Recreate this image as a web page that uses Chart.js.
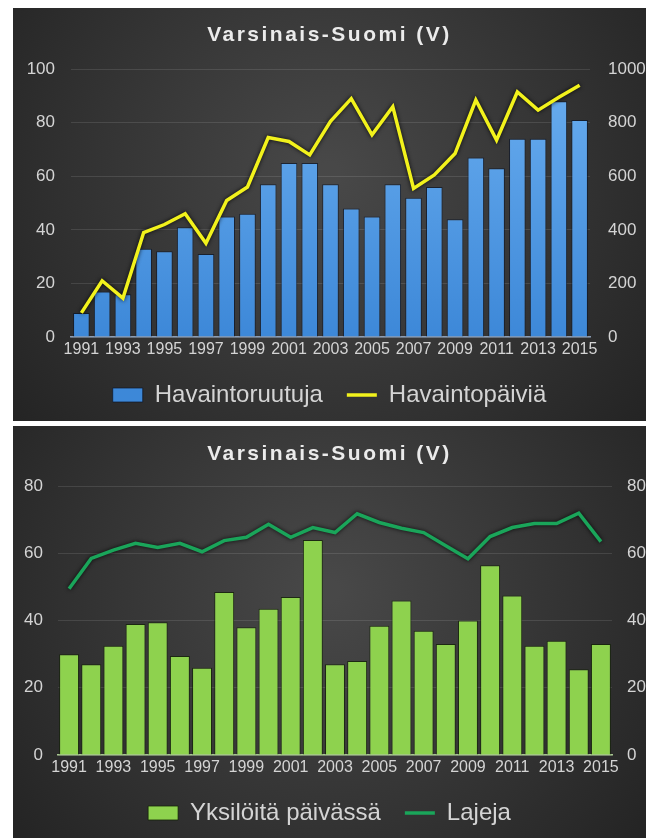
<!DOCTYPE html>
<html>
<head>
<meta charset="utf-8">
<script src="https://cdn.jsdelivr.net/npm/chart.js@4.4.1/dist/chart.umd.min.js"></script>
<style>
  body { margin: 0; background: #fff; width: 646px; height: 838px; position: relative; overflow: hidden; }
  canvas { position: absolute; left: 13px; }
  #topChart { top: 8px; }
  #bottomChart { top: 426px; }
</style>
</head>
<body>
<canvas id="topChart" width="633" height="413"></canvas>
<canvas id="bottomChart" width="633" height="412"></canvas>
<script>
const years = ['1991', '1992', '1993', '1994', '1995', '1996', '1997', '1998', '1999', '2000', '2001', '2002', '2003',
  '2004', '2005', '2006', '2007', '2008', '2009', '2010', '2011', '2012', '2013', '2014', '2015']

// top chart: squares with observations (bars, left) and observation days (line, right)
const havaintoruutuja = [9, 17, 16, 33, 32, 41, 31, 45, 46, 57, 65, 65, 57, 48, 45, 57, 52, 56, 44, 67, 63, 74, 74, 88, 81]
const havaintopaivia = [90, 210, 145, 390, 420, 460, 350, 510, 560, 745, 730, 680, 805, 890, 755, 860, 555, 605, 685, 885, 735, 915, 847, 895, 940]

// bottom chart: individuals per day (bars) and species (line)
const yksiloitaPaivassa = [30, 27, 32.5, 39, 39.5, 29.5, 26, 48.5, 38, 43.5, 47, 64, 27, 28, 38.5, 46, 37, 33, 40, 56.5, 47.5, 32.5, 34, 25.5, 33]
const lajeja = [49.5, 58.5, 61, 63, 61.8, 63, 60.5, 63.8, 64.8, 68.7, 64.8, 67.7, 66.2, 71.8, 69.2, 67.5, 66.2, 62.3, 58.4, 65, 67.7, 68.9, 68.9, 72, 63.5]

const TITLE = 'Varsinais-Suomi (V)'
const TEXT_COLOR = '#d4d4d4'
const FONT = 'Liberation Sans'

// dark radial background of each panel
const panelBackground = {
  id: 'panelBackground',
  beforeDraw(chart) {
    const { ctx, width, height } = chart
    const g = ctx.createRadialGradient(width / 2, height * 0.4, 10, width / 2, height * 0.4, width * 0.75)
    g.addColorStop(0, '#484848')
    g.addColorStop(1, '#1d1d1d')
    ctx.save()
    ctx.fillStyle = g
    ctx.fillRect(0, 0, width, height)
    ctx.restore()
  }
}

// the title in the original is letter-spaced
const spacedTitle = {
  id: 'spacedTitle',
  beforeDraw(chart) {
    const block = chart.titleBlock
    if (!block || block._spaced) return
    const draw = block.draw.bind(block)
    block.draw = function () {
      chart.ctx.save()
      chart.ctx.letterSpacing = '2.5px'
      draw()
      chart.ctx.restore()
    }
    block._spaced = true
  }
}

// dark glow under the lines
const lineShadow = {
  id: 'lineShadow',
  beforeDatasetDraw(chart, args) {
    if (args.meta.type !== 'line') return
    chart.ctx.save()
    chart.ctx.shadowColor = 'rgba(0,0,0,0.85)'
    chart.ctx.shadowBlur = 4
  },
  afterDatasetDraw(chart, args) {
    if (args.meta.type !== 'line') return
    chart.ctx.restore()
  }
}

function barGradient(top, bottom) {
  return function (context) {
    const area = context.chart.chartArea
    if (!area) return bottom
    const g = context.chart.ctx.createLinearGradient(0, area.top, 0, area.bottom)
    g.addColorStop(0, top)
    g.addColorStop(1, bottom)
    return g
  }
}

function makeConfig(opts) {
  return {
    type: 'bar',
    data: {
      labels: years,
      datasets: [
        {
          type: 'bar',
          label: opts.barLabel,
          data: opts.barData,
          backgroundColor: opts.barColor,
          borderColor: opts.barBorder,
          borderWidth: 1,
          categoryPercentage: 1,
          barPercentage: opts.barPct,
          pointStyle: 'rect',
          yAxisID: 'y',
          order: 1
        },
        {
          type: 'line',
          label: opts.lineLabel,
          data: opts.lineData,
          borderColor: opts.lineColor,
          backgroundColor: opts.lineColor,
          borderWidth: 3.5,
          pointRadius: 0,
          tension: 0,
          pointStyle: 'line',
          yAxisID: 'y1',
          order: 0
        }
      ]
    },
    options: {
      responsive: false,
      animation: false,
      layout: { padding: { left: 0, right: 0, top: 0, bottom: opts.bottomPad } },
      plugins: {
        title: {
          display: true,
          text: TITLE,
          color: '#ebebeb',
          font: { family: FONT, size: 21, weight: 'bold' },
          padding: { top: opts.titleTop, bottom: opts.titleBottom }
        },
        legend: {
          position: 'bottom',
          labels: {
            color: TEXT_COLOR,
            font: { family: FONT, size: 24 },
            usePointStyle: true,
            pointStyleWidth: 30,
            boxHeight: 14,
            padding: 24,
            sort: (a, b) => a.datasetIndex - b.datasetIndex
          }
        },
        tooltip: { enabled: false }
      },
      scales: {
        x: {
          grid: { display: false, drawTicks: false },
          border: { color: opts.baseColor, width: 1.5 },
          ticks: {
            color: TEXT_COLOR,
            font: { family: FONT, size: 16 },
            padding: 3,
            autoSkip: false,
            maxRotation: 0,
            callback: (v, i) => (i % 2 === 0 ? years[i] : '')
          },
          afterFit: (s) => { s.height = 22 }
        },
        y: {
          position: 'left',
          min: 0,
          max: opts.leftMax,
          ticks: { stepSize: opts.leftStep, color: TEXT_COLOR, font: { family: FONT, size: 17 }, padding: opts.leftPad, callback: (v) => String(v) },
          grid: { color: 'rgba(255,255,255,0.11)', drawTicks: false },
          border: { display: false },
          afterFit: (s) => { s.width = opts.leftWidth }
        },
        y1: {
          position: 'right',
          min: 0,
          max: opts.rightMax,
          ticks: { stepSize: opts.rightStep, color: TEXT_COLOR, font: { family: FONT, size: 17 }, padding: opts.rightPad, callback: (v) => String(v) },
          grid: { display: false, drawTicks: false },
          border: { display: false },
          afterFit: (s) => { s.width = opts.rightWidth }
        }
      }
    },
    plugins: [panelBackground, spacedTitle, lineShadow]
  }
}

new Chart(document.getElementById('topChart'), makeConfig({
  barLabel: 'Havaintoruutuja',
  barData: havaintoruutuja,
  barColor: barGradient('#6aaef0', '#3d88d8'),
  barBorder: 'rgba(12,22,40,0.7)',
  barPct: 0.8,
  lineLabel: 'Havaintopäiviä',
  lineData: havaintopaivia,
  lineColor: '#f2f21c',
  baseColor: '#8b9db5',
  leftMax: 100, leftStep: 20, leftPad: 16, leftWidth: 58,
  rightMax: 1000, rightStep: 200, rightPad: 18, rightWidth: 56,
  titleTop: 15, titleBottom: 21, bottomPad: 4
}))

new Chart(document.getElementById('bottomChart'), makeConfig({
  barLabel: 'Yksilöitä päivässä',
  barData: yksiloitaPaivassa,
  barColor: '#8ed24e',
  barBorder: 'rgba(20,35,8,0.8)',
  barPct: 0.9,
  lineLabel: 'Lajeja',
  lineData: lajeja,
  lineColor: '#1aa55a',
  baseColor: '#a8c890',
  leftMax: 80, leftStep: 20, leftPad: 15, leftWidth: 45,
  rightMax: 80, rightStep: 20, rightPad: 15, rightWidth: 34,
  titleTop: 16, titleBottom: 19, bottomPad: 3
}))
</script>
</body>
</html>
